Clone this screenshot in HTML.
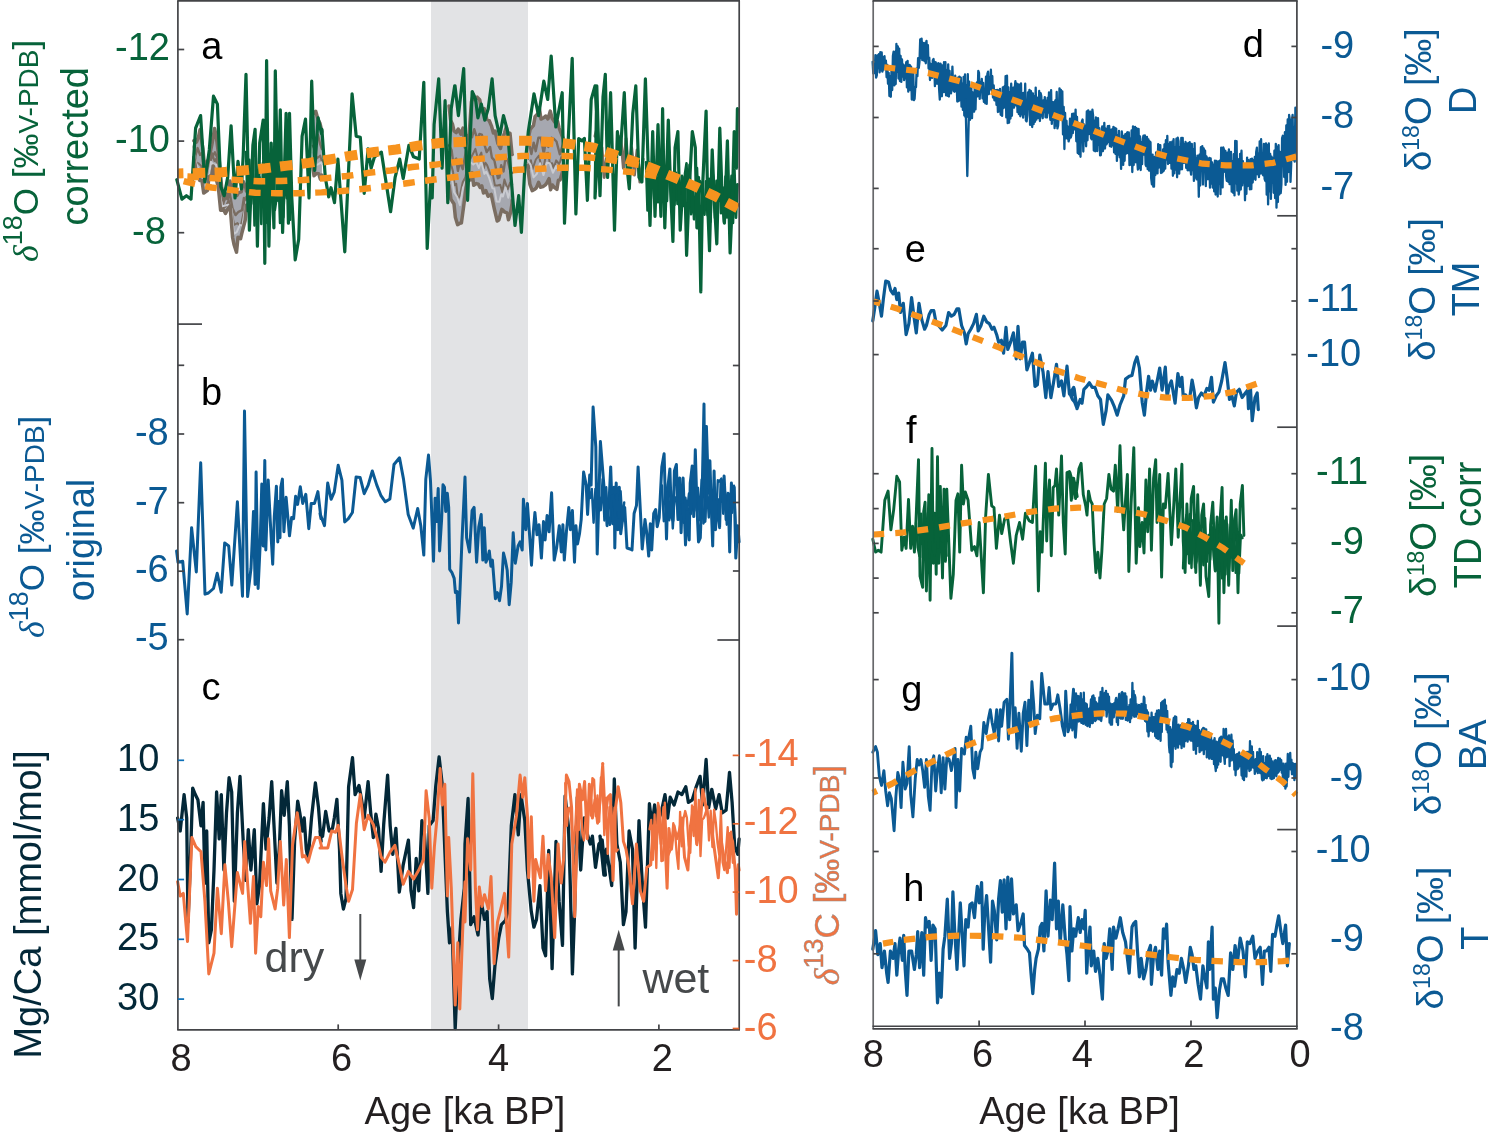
<!DOCTYPE html>
<html><head><meta charset="utf-8"><style>
html,body{margin:0;padding:0;background:#fff;overflow:hidden;}
svg{display:block;will-change:transform;}
text{font-family:"Liberation Sans",sans-serif;}
</style></head><body>
<svg width="1500" height="1135" viewBox="0 0 1500 1135" font-family='"Liberation Sans", sans-serif'>
<rect x="0" y="0" width="1500" height="1135" fill="#fff"/>
<rect x="431" y="0.8" width="97" height="1029.1" fill="#e2e3e5"/>
<polygon points="193.8,140.8 196.5,142.1 198.5,136.8 200,129.9 203,149.3 204.8,169.6 206.5,162.9 208.9,158.5 211.9,144.5 214.6,128.5 216.2,136.2 218.9,156.8 221.7,187.9 223.8,200.2 225.3,193.4 227.7,198.8 229.9,181 232.2,187.2 234.1,192 236.9,195.3 238.6,192.5 241.2,191.8 243.4,181.6 245.9,188.1 246.4,191.1 246.4,204.9 245.2,220.2 242.1,232.2 240.6,238.6 238,237.3 236.5,252.2 234,244.5 232.6,237.5 230.1,206.1 228.1,208.5 225.5,213.4 223.7,209.9 220.6,210.2 218.3,186.9 216,178.5 213.3,166 211.8,175.1 209,176.7 207.4,190.6 205.2,192 203.7,193.1 201.9,180.3 199.7,180.5 198.1,170.8 196.3,172.1 193.8,157.3" fill="#a6a8b0" stroke="none"/>
<polyline points="193.8,146.1 195.3,156.1 197.6,148.1 200,154.9 202,152.9 204.5,181.1 207.4,167.1 210,160.1 212.2,157 214.9,152.3 218.3,159.9 219.8,177 222.8,205.7 224.8,197.2 227.6,198.8 229.9,193.9 232.5,208.2 235.5,215.1 238.5,211.8 242,210.2 243.9,197.9 245.7,205.1 246.4,196.6" fill="none" stroke="#7a6d61" stroke-width="2.4" stroke-linejoin="round" stroke-linecap="round" />
<polyline points="193.8,147.7 196.4,162.6 198.7,163.5 201.3,166.1 203.5,180.8 206.8,178.7 208.9,174.7 212.2,153.2 214.5,161.1 216.1,158.9 219.4,182.3 222.7,208.8 226.1,205.9 228.7,200.1 231.3,210.4 234.1,224.8 237.5,223.1 239.5,225.6 241.2,224.3 243.2,214.5 246.4,200.1" fill="none" stroke="#7a6d61" stroke-width="2.0" stroke-linejoin="round" stroke-linecap="round" />
<polyline points="193.8,153.1 196.9,165.7 199.3,170.6 201.9,176.1 203.8,188 206.9,183.7 208.9,176.2 211,161.7 213,164.6 216.3,164.6 219.4,184.8 222.1,206.3 225.4,205.5 228.2,204.7 231.5,208.8 233.8,233.8 236.7,232.1 239.9,224.8 242.5,225.9 244.4,212.6 246.4,201.4" fill="none" stroke="#c9cbd1" stroke-width="2.0" stroke-linejoin="round" stroke-linecap="round" />
<polyline points="193.8,140.8 196.5,142.1 198.5,136.8 200,129.9 203,149.3 204.8,169.6 206.5,162.9 208.9,158.5 211.9,144.5 214.6,128.5 216.2,136.2 218.9,156.8 221.7,187.9 223.8,200.2 225.3,193.4 227.7,198.8 229.9,181 232.2,187.2 234.1,192 236.9,195.3 238.6,192.5 241.2,191.8 243.4,181.6 245.9,188.1 246.4,191.1" fill="none" stroke="#7a6d61" stroke-width="3.5" stroke-linejoin="round" stroke-linecap="round" />
<polyline points="193.8,157.3 196.3,172.1 198.1,170.8 199.7,180.5 201.9,180.3 203.7,193.1 205.2,192 207.4,190.6 209,176.7 211.8,175.1 213.3,166 216,178.5 218.3,186.9 220.6,210.2 223.7,209.9 225.5,213.4 228.1,208.5 230.1,206.1 232.6,237.5 234,244.5 236.5,252.2 238,237.3 240.6,238.6 242.1,232.2 245.2,220.2 246.4,204.9" fill="none" stroke="#7a6d61" stroke-width="3.5" stroke-linejoin="round" stroke-linecap="round" />
<polygon points="312.7,114.1 315.7,111.3 318.2,120 320,123.4 321.9,131.6 321.9,175.1 320.3,179.1 318.7,173.8 316.6,173.4 314,175.8 312.7,165.9" fill="#a6a8b0" stroke="none"/>
<polyline points="312.7,130.8 315.2,141 318,134.9 320,143.5 321.9,149" fill="none" stroke="#7a6d61" stroke-width="2.4" stroke-linejoin="round" stroke-linecap="round" />
<polyline points="312.7,145.6 314.7,150 316.9,158.5 320.3,155.6 321.9,162.1 321.9,159.9" fill="none" stroke="#7a6d61" stroke-width="2.0" stroke-linejoin="round" stroke-linecap="round" />
<polyline points="312.7,152.4 315.9,165 318.1,164.4 321.2,162.2 321.9,164.2" fill="none" stroke="#c9cbd1" stroke-width="2.0" stroke-linejoin="round" stroke-linecap="round" />
<polyline points="312.7,114.1 315.7,111.3 318.2,120 320,123.4 321.9,131.6" fill="none" stroke="#7a6d61" stroke-width="3.5" stroke-linejoin="round" stroke-linecap="round" />
<polyline points="312.7,165.9 314,175.8 316.6,173.4 318.7,173.8 320.3,179.1 321.9,175.1" fill="none" stroke="#7a6d61" stroke-width="3.5" stroke-linejoin="round" stroke-linecap="round" />
<polygon points="449,105.9 450.6,120.1 452.6,124.5 454,130.9 456.2,132.6 458.2,129 460.9,134.1 463,128.1 465.3,147.6 467.7,137.1 469.2,133.7 471.4,101.9 473.4,94.5 475.1,99.7 477.2,97.2 479.7,99.7 482.1,111.9 484.3,108.7 486.8,119.3 489.2,120.5 491.4,125.8 493.4,133 495.1,131 497.9,143.5 500.5,148.4 502.6,138.2 504.6,132.8 506.3,126.9 507.9,133.4 510,133.2 512,154.1 512.2,154.5 512.2,200.3 512.1,203.1 510.6,212.4 508.5,219.8 507.1,212.8 504.8,212.1 501.8,209.4 498.8,220 497.2,221 494.2,208.3 491.2,194.4 488.1,196.3 485.8,190.6 483.5,193 481.8,185.9 480.1,187.5 478.3,184.1 476.4,183.6 473.7,185.3 472.1,172.8 470.4,179.8 467.5,177.5 465.7,190.2 464,203.8 461.4,223.1 459.8,223.2 457.6,224.7 455.4,217.5 454,204 451,199.4 449,185.3" fill="#a6a8b0" stroke="none"/>
<polyline points="449,145.2 451.6,150.1 453.1,162 456.2,158.6 457.9,170.9 459.9,161.8 462.7,169.2 466.1,150.1 468.2,159.9 470.5,134.4 472.1,137.2 474.2,129.2 477.6,140.2 479.4,134 481.8,134.6 484.8,145.9 486.7,152.1 490.1,147 491.9,157.6 494.4,160.4 497.9,178.2 499.4,177.2 501.2,165.3 503.5,171.6 505.6,157.1 508,161.6 510.9,173.4 512.2,172.8" fill="none" stroke="#7a6d61" stroke-width="2.4" stroke-linejoin="round" stroke-linecap="round" />
<polyline points="449,158.8 451.2,165.1 453,171.4 454.6,185.3 456.2,183.8 458,198.6 459.9,196.1 462.7,182.2 465.4,177.3 468.7,159.8 470.4,158.7 473.8,152.3 475.4,148.9 478,159.1 481.3,152.6 483.8,168.2 485.3,162.7 487.1,165.1 490.5,174.1 493,175.4 494.9,185.4 497.6,185.5 500.2,184.7 502.3,191.9 504.4,179.6 507.6,189.3 510.1,182.6 512.2,184.3" fill="none" stroke="#7a6d61" stroke-width="2.0" stroke-linejoin="round" stroke-linecap="round" />
<polyline points="449,170.2 451.7,176.3 454.1,192.3 457.2,197 460,205.1 463,187.6 466.2,180.4 468,168.4 470.2,161.9 473.2,164.6 476.1,161.7 478.9,168 481.2,161.1 484.4,173.9 486.3,171.7 489.2,177.9 492.4,188.3 494.3,188.4 496.6,201.5 499.4,201.8 501.2,194.5 502.9,196.5 505.6,187.5 508.3,197.7 510.9,187.4 512.2,188.8" fill="none" stroke="#c9cbd1" stroke-width="2.0" stroke-linejoin="round" stroke-linecap="round" />
<polyline points="449,105.9 450.6,120.1 452.6,124.5 454,130.9 456.2,132.6 458.2,129 460.9,134.1 463,128.1 465.3,147.6 467.7,137.1 469.2,133.7 471.4,101.9 473.4,94.5 475.1,99.7 477.2,97.2 479.7,99.7 482.1,111.9 484.3,108.7 486.8,119.3 489.2,120.5 491.4,125.8 493.4,133 495.1,131 497.9,143.5 500.5,148.4 502.6,138.2 504.6,132.8 506.3,126.9 507.9,133.4 510,133.2 512,154.1 512.2,154.5" fill="none" stroke="#7a6d61" stroke-width="3.5" stroke-linejoin="round" stroke-linecap="round" />
<polyline points="449,185.3 451,199.4 454,204 455.4,217.5 457.6,224.7 459.8,223.2 461.4,223.1 464,203.8 465.7,190.2 467.5,177.5 470.4,179.8 472.1,172.8 473.7,185.3 476.4,183.6 478.3,184.1 480.1,187.5 481.8,185.9 483.5,193 485.8,190.6 488.1,196.3 491.2,194.4 494.2,208.3 497.2,221 498.8,220 501.8,209.4 504.8,212.1 507.1,212.8 508.5,219.8 510.6,212.4 512.1,203.1 512.2,200.3" fill="none" stroke="#7a6d61" stroke-width="3.5" stroke-linejoin="round" stroke-linecap="round" />
<polygon points="527.5,142.3 530.1,129.6 531.5,127.8 533.5,125.3 535.1,116.4 537.8,113.8 539.4,108.6 541,119.1 543.6,117.8 545.9,116 547.9,118.9 550.3,111.1 552.1,118.2 555,122.5 557.6,121.5 559.1,128 560.6,132 563,138 563,172 562.7,171.3 560.1,180 558.4,180.3 556.9,189.4 554.3,187.4 552.4,185 550.6,189.7 549.1,178.7 546.8,183 545.4,184.9 543,186.6 540.4,187.2 538.6,182.3 536.3,187.9 534.8,189.3 532.2,190.6 529.9,184.3 527.5,165.6" fill="#a6a8b0" stroke="none"/>
<polyline points="527.5,145.2 529.4,144.6 531.4,154.1 533.7,142.6 535.7,151.2 538.4,137.8 540.9,137.8 543.8,153.8 545.7,141.5 548.4,146.9 551.6,137.7 553.6,138.7 556.5,141.5 559.8,154.3 562.7,145.2 563,151.6" fill="none" stroke="#7a6d61" stroke-width="2.4" stroke-linejoin="round" stroke-linecap="round" />
<polyline points="527.5,156.6 529.4,168 530.9,160.3 532.5,169.3 535.8,159.5 538.9,155.5 541.2,165.9 543.6,167 546.4,153.3 548.2,152.8 549.8,163.1 552.2,163.3 553.7,168.3 556.2,160.4 559.5,164.5 561.3,157.1 563,160.1" fill="none" stroke="#7a6d61" stroke-width="2.0" stroke-linejoin="round" stroke-linecap="round" />
<polyline points="527.5,160.1 530.6,164.7 533.5,177.4 536.8,173.9 540.1,163.3 543.5,175.1 546.8,162.7 549.8,163.2 552.9,172.8 556.1,166 559.1,170.4 562.1,162 563,163.5" fill="none" stroke="#c9cbd1" stroke-width="2.0" stroke-linejoin="round" stroke-linecap="round" />
<polyline points="527.5,142.3 530.1,129.6 531.5,127.8 533.5,125.3 535.1,116.4 537.8,113.8 539.4,108.6 541,119.1 543.6,117.8 545.9,116 547.9,118.9 550.3,111.1 552.1,118.2 555,122.5 557.6,121.5 559.1,128 560.6,132 563,138" fill="none" stroke="#7a6d61" stroke-width="3.5" stroke-linejoin="round" stroke-linecap="round" />
<polyline points="527.5,165.6 529.9,184.3 532.2,190.6 534.8,189.3 536.3,187.9 538.6,182.3 540.4,187.2 543,186.6 545.4,184.9 546.8,183 549.1,178.7 550.6,189.7 552.4,185 554.3,187.4 556.9,189.4 558.4,180.3 560.1,180 562.7,171.3 563,172" fill="none" stroke="#7a6d61" stroke-width="3.5" stroke-linejoin="round" stroke-linecap="round" />
<polyline points="595,136.2 597.3,127 599.6,168.2 601.9,147.6 604.2,177.4 606.4,159.1" fill="none" stroke="#7a6d61" stroke-width="3" stroke-linejoin="round" stroke-linecap="round" />
<polyline points="617.9,149.9 620.6,136.2 623.4,168.2 626.1,138.5 628.9,177.4 631.6,147.6 634.4,175.1 637.1,149.9 639.9,182 643.1,159.1" fill="none" stroke="#7a6d61" stroke-width="3" stroke-linejoin="round" stroke-linecap="round" />
<polyline points="246,152.1 247.7,211.1 249.4,159.7 251.1,204 252.8,157.1 254.5,225.4 256.2,173.2 257.9,198.3 259.6,177.2 261.3,223.9 263,162.4 264.7,205.4 266.4,222.8 268.1,171.5 269.8,219.8 271.5,167.1 273.2,178.9 274.9,210 276.6,198 278.3,171.3 280,223 281.7,172.3 283.4,217.3 285.1,167.2 286.8,198.3 288.5,168.4 290.2,219.8" fill="none" stroke="#07633a" stroke-width="2.5" stroke-linejoin="round" stroke-linecap="round" />
<polyline points="646,162.3 647.5,210.4 649,162.3 650.5,204.3 652,174.3 653.5,160.3 655,198 656.5,178.1 658,202.2 659.5,158.5 661,194.6 662.5,176 664,195.9 665.5,171 667,201 668.5,159.6 670,173.1 671.5,208.1 673,173.5 674.5,205 676,172.7 677.5,204 679,180.4 680.5,210.4 682,175.7 683.5,205.9 685,173.5 686.5,163.4 688,204.7 689.5,164.9 691,214.1 692.5,185.1 694,219.3 695.5,198.8 697,168.1 698.5,210.3 700,181.1 701.5,183.5 703,205.6 704.5,214.8 706,181.4 707.5,215.1 709,178.8 710.5,221.6 712,168.4 713.5,179.4 715,218 716.5,180.9 718,201.7 719.5,172 721,213.1 722.5,187.4 724,222 725.5,176.5 727,217.4 728.5,181.5 730,205.7 731.5,175.7 733,223 734.5,169.7 736,217.6 737.5,184.3" fill="none" stroke="#07633a" stroke-width="2.6" stroke-linejoin="round" stroke-linecap="round" />
<polyline points="176.8,179.7 181.9,199.1 186.4,195.7 191,199.1 195.6,128.2 200.6,115.6 204.8,182 209.3,149.9 213.5,96.1 217.4,104.1 220.8,186.6 224.2,195.7 227.7,177.4 231.1,125.9 235,198 238,161.4 241.4,188.8 243.2,155.6 246,74.3 249.4,230.1 252.9,145.3 255.1,129.3 257.4,246.1 259.7,143 263.2,120.1 264.8,263.3 266.6,60.6 268.9,246.1 271.2,143 273.9,227.8 275.3,70.9 278,200.3 280.3,109.8 282.6,232.4 286.1,113.3 288.4,223.2 289.5,113.3 291.8,198 295.2,259.8 298.7,239.2 302.1,136.2 305.5,119 309,198 311.7,81.2 314.7,170.5 318.1,117.9 321.6,133.9 321.9,129.3 325.3,177.4 328.7,196.9 331,187.7 334.5,202.6 337.9,159.1 344.8,251.8 352.1,93.8 356.2,136.2 360.3,137.3 364.2,193.4 368.1,148.8 371.1,168.2 374.5,156.8 381.4,152.2 390.6,211.7 395.1,177.4 399.7,159.1 403.2,178.5 408.9,145.3 413.5,156.8 419.2,159.1 423.8,82.4 427.2,248.4 430.6,182 432.2,198 434.1,124.7 438.7,78.9 442.1,168.2 445.1,100.7 447.8,202.6 451.2,108.7 454.7,85.8 455,85.8 458.4,115.6 463.7,68.6 467.6,200.3 472.2,91.5 475.6,99.5 477.9,117.9 481.3,104.1 484.8,120.1 488.2,108.7 492.1,78.9 495.1,115.6 499.7,136.2 503.5,115.6 507.7,131.6 511.1,177.4 515,225.5 518.7,195.7 521.4,232.4 524.8,168.2 528.3,131.6 534,93.8 538.6,115.6 543.8,81.2 547.7,99.5 551.2,56 555.8,127 559.2,108.7 562.2,92.7 564.5,223.2 568.4,136.2 572.2,58.3 575.9,214 578.7,138.5 582.1,140.8 584.4,138.5 587.4,200.3 591.2,99.5 595.1,85.8 598.1,145.3 595,198 596.8,85.8 600,195.7 603,97.2 605.3,74.3 607.6,177.4 610.6,92.7 614.5,230.1 617.4,131.6 620.2,154.5 624.3,92.7 627.1,168.2 629.3,188.8 632.8,113.3 635.8,85.8 639,177.4 641.9,182 645.4,78.9 647.7,149.9 650,225.5 652.7,131.6 655,216.3 658,124.7 660.9,216.3 662.6,108.7 664.8,227.8 668.3,120.1 670.6,188.8 672.9,241.5 675.1,147.6 677.9,131.6 680.2,230.1 682,200.3 684.8,177.4 686.6,255.3 688.9,195.7 692.3,131.6 695.3,147.6 696.9,227.8 698.5,177.4 700.8,291.9 702.6,186.6 706.1,111 707.7,204.9 709.5,250.7 712.2,149.9 714.5,204.9 716.8,243.8 719.8,128.2 722.1,195.7 724.4,223.2 727.4,140.8 730.1,253 732.4,200.3 734.2,131.6 736.5,168.2 737.4,108.7" fill="none" stroke="#07633a" stroke-width="3.2" stroke-linejoin="round" stroke-linecap="round" />
<polyline points="178,179.5 189.7,182.7 211.6,187.5 233.5,190.3 255.3,192.8 277.2,193.3 299.6,193.2 321.5,192.4 342.5,191 364.2,188.8 387,186 408.9,183 430.6,180 453.5,177.2 474.5,174.6 496,171.7 518,169.8 539.7,168.7 562.6,167.8 584,167.8 605.3,169.4 628,171.7 650,175 665,178" fill="none" stroke="#f7931e" stroke-width="6.4" stroke-linejoin="round" stroke-linecap="butt" stroke-dasharray="11.7 10.4" stroke-dashoffset="16.2"/>
<polyline points="178,176 197,177 215.3,178.4 237.2,180 259,181.3 281.1,181 303.3,180 325.2,178.2 347,176 368.8,172.8 390.6,170.5 412.3,167 434,164.8 456,162 478,159 499.6,157.2 521.4,156 544.3,155.6 566,156 587.8,157.2 608,159.5 628,163 645,166" fill="none" stroke="#f7931e" stroke-width="6.4" stroke-linejoin="round" stroke-linecap="butt" stroke-dasharray="11.7 10.4" stroke-dashoffset="12.7"/>
<polyline points="178,173.5 199,173 221.7,172.2 243.6,170.4 265.5,168.3 287.3,165.6 309.2,162.9 331.1,159.2 351.6,155.6 374.5,152 396.3,149.5 418,145.8 440,143 461.8,141.9 483.6,140.8 505.4,140.8 528,140.8 550,142 571.8,144.2 593.5,147.6 612.5,154 634,161.4 653,168.6 674,177.4 694,186 714,195.7 739,209" fill="none" stroke="#f7931e" stroke-width="10" stroke-linejoin="round" stroke-linecap="butt" stroke-dasharray="12.6 9.3" stroke-dashoffset="7.2"/>
<polyline points="176.6,551 178,562.2 182.7,561.2 187.2,613.9 191.6,527.7 196.3,571.9 200.7,462.8 205,594.2 208.4,593 213.5,588.5 217.2,573.3 221.2,592.2 224.7,542.9 228.7,546 231.8,585.1 237.4,501.8 242.5,596.2 244.5,411.1 247.6,596.6 251,568.3 253.5,511.5 255.1,584.5 256.1,472 258.1,588.5 260.1,546 261.8,484.1 263.2,546 264.8,460.4 265.8,550 268.2,480.1 270.3,521.6 272.7,564.2 274.3,516.6 276.4,486.2 277.8,541.9 278.8,501.4 280,537.8 280.8,487.2 282.4,479.1 283.9,531.8 286.1,497.3 289.5,535.8 291.6,517.6 293.6,518.6 295.6,496.3 297.6,504.4 300.3,486.8 302.7,503.4 305.8,494.3 308.8,528.7 311.2,503.4 314.5,503.4 317.9,491.6 321,518.6 320,513.5 324.5,525.7 327.7,483.1 331.1,499.3 334.2,492.2 338.2,465.3 341.9,480.1 344.7,522 348.4,518.6 352.4,512.5 356.1,477 360.1,477.4 364.2,493.7 368.2,485.1 372.3,471 376.8,485.1 380.8,495.3 385.3,501.8 389.9,498.9 394,464.5 399.5,457.8 403.5,479.1 408.2,514.5 413.2,528.1 417.7,508.5 420.8,525.7 423.8,555.1 425.8,479.1 428.5,455.1 430.5,481.1 431.9,517.6 433.5,561.2 435.1,498.3 436.6,521.6 438.2,488.6 439.6,551 441.6,519.6 443,484.7 444.5,487.2 445.7,511.5 447.3,493.2 448.7,507.4 449.7,569.3 451.8,572.3 454.2,578.4 455.4,592.6 457,591.6 458.5,623 459.9,592.6 461.9,541.9 465,477 466.6,537.8 469.5,552 472.1,510.5 474.1,507.4 476.6,562.2 478.8,526.7 481.2,514.5 482.8,560.1 484.3,527.7 485.9,562.2 487.7,558.1 489.3,551 490.9,566.2 492.4,560.1 495.4,598.7 497.4,592.6 499.5,600.7 501.5,586.5 503.5,553.1 505.5,561.2 507.2,570.3 509.2,604.7 511.2,582.4 513.2,532.8 515.3,563.2 518.1,546 520.1,541.9 522.2,550 523.4,499.3 525.8,529.7 527.4,503.4 529.5,533.8 531.5,565.2 533.3,531.8 534.9,512.5 537,534.8 539,524.7 541.4,558.1 543.5,521.6 545.1,539.9 547.1,515.5 549.1,531.8 551.6,492.8 554.2,560.1 556.6,548 559.3,525.7 561.3,552 562.9,524.7 564.3,560.1 566.4,531.8 568.8,507.4 570.4,529.7 572.4,510.5 574.5,562.2 575.9,525.7 577.5,543.9 579.5,533.8 581.2,519.6 583.6,472 586.2,485.1 587.6,514.5 589.7,475 591.1,485.1 593.1,407.1 595.8,446.6 597.2,554.1 598.8,501.4 600.4,441.6 607.1,525.7 609.1,501.4 610.7,466.9 612.6,523.7 614.2,487.2 614.8,548 616.2,483.1 617.8,529.7 619.3,487.2 620.7,533.8 622.3,521.6 624.7,507.4 627,548 630,549 632,550 634.1,513.5 636.5,505.4 638.1,466.9 640.5,513.5 642.2,549 645,519.6 646.6,531.8 648.7,556.1 650.3,523.7 651.7,550 653.7,513.5 655.7,509.5 657.2,526.7 659.2,517.6 661.8,466.9 664.1,453.7 666.5,538.9 668.1,485.1 669.9,468.9 671.4,517.6 673,520.6 674.4,471 676.4,464.5 678,519.6 679.7,478 681.1,532.8 683.1,478 685.5,544.9 687.2,508.5 689.2,539.9 690.2,483.1 692.2,465.9 693.7,516.6 695.3,449.7 696.9,505.4 698.5,541.9 700.3,537.8 702.4,481.1 704,404.1 705,521.6 706.4,426.4 708.5,493.2 709.9,460.8 711.1,501.4 712.7,546 714.1,471 715.5,529.7 717.6,499.3 719.6,527.7 721,480.1 722.6,501.4 724.1,476 726.1,519.6 728.1,493.2 729.7,552 731.4,483.1 732.8,501.4 734.2,487.2 735.8,558.1 737.8,525.7 739.1,541.9" fill="none" stroke="#0b5a94" stroke-width="3.0" stroke-linejoin="round" stroke-linecap="round" />
<polyline points="590,498 591.8,488.9 593.6,522.8 595.4,488.9 597.2,512.5 599,496.6 600.8,510.3 602.6,479.3 604.4,520.5 606.2,487.3 608,519.2 609.8,524.8 611.6,496.3 613.4,495.1 615.2,516.1 617,495 618.8,517.7 620.6,491.1 622.4,521.3 624.2,502.4" fill="none" stroke="#0b5a94" stroke-width="2.4" stroke-linejoin="round" stroke-linecap="round" />
<polyline points="662,485.5 663.8,521.2 665.6,517.1 667.4,492.6 669.2,520.4 671,490.8 672.8,528.5 674.6,497.2 676.4,498 678.2,519 680,490.4 681.8,489.9 683.6,522.8 685.4,497.7 687.2,509.7 689,493.5 690.8,514.2 692.6,482.1 694.4,510.6 696.2,490.9 698,487.7 699.8,520.3 701.6,479.7 703.4,523.5 705.2,518.8 707,489.5 708.8,517.5 710.6,482.3 712.4,525.3 714.2,497.1 716,522.2 717.8,480.2 719.6,481.5 721.4,478.6 723.2,513.8 725,491.2 726.8,524.7 728.6,495.9 730.4,493.9 732.2,512.7 734,485.7 735.8,528.2" fill="none" stroke="#0b5a94" stroke-width="2.4" stroke-linejoin="round" stroke-linecap="round" />
<polyline points="177.6,818 180.2,831 184.1,794.6 186.7,818 188,922 190.1,870 192.7,788.1 195.3,794.6 197.9,799.8 201,825.8 203.1,802.4 204.9,883 206.7,831 208.8,942.8 211.4,929.8 214,870 216.6,792 219.2,838.8 221.3,794.6 223.9,870 226.5,812.8 229.1,777.7 231.7,792 234.3,901.2 237.4,812.8 240,776.4 243.1,838.8 245.7,880.4 248.3,829.7 250.9,870 254.3,829.7 256.9,903.8 259.5,885.6 263.4,803.7 266,849.2 269.1,818 271.7,781.6 274.3,831 276.9,883 279.5,844 281.6,790.7 284.2,815.4 287.3,781.6 289.4,825.8 292,919.4 294.6,841.4 297.7,801.1 299.8,812.8 302.4,831 304.2,818 306.3,849.2 308.1,859.6 311.5,818 315.4,782.9 318.5,807.6 321.1,841.4 320,831 322.6,836.2 325.7,811.5 329.1,831 332.5,828.4 334.3,818 336.9,799.3 339.5,849.2 340.8,893.4 343.4,909 346,898.6 348.6,786.8 352.5,757.7 355.1,794.6 359,785.5 361.6,799.8 364.2,818 368.1,781.6 370.7,812.8 373.3,837.5 375.9,814.1 378.5,828.4 381.1,871.3 383.7,824.5 387.6,775.1 390.2,825.8 392.8,854.4 395.9,828.4 399.3,892.1 403.2,864.8 408.4,840.1 411,890.8 413.6,907.7 416.2,858.3 418.8,890.8 421.9,820.6 424.5,833.6 427.9,893.4 429.2,825.8 433.1,820.6 435.7,786.8 439.1,756.9 442.2,784.2 444.8,849.2 447.4,911.6 449.5,942.8 452.1,927.2 455.2,1028.5 458.3,961 460.9,919.4 464.3,888.2 465,844 468.1,798.5 470.7,924.6 474.1,916.8 478,935 481.1,901.2 484.5,919.4 487.1,911.6 489.7,979.1 492.3,998.6 494.9,966.2 498.8,937.6 501.4,924.6 505.3,920.7 507.9,911.6 511.3,825.8 514.9,794.6 518.3,834.9 520.9,794.6 524.8,820.6 527.4,870 531.3,911.6 533.9,927.2 536.5,919.4 539.9,885.6 543,948 545.6,955.8 548.7,850.5 552.1,968.7 556,841.4 559.1,901.2 562.5,945.4 565.1,795.9 568.5,827.1 570.3,885.6 572.4,973.9 574.7,909 577.3,797.2 580.7,870 584.1,818 587.2,833.6 590.3,844 592.4,836.2 595.5,867.4 598.9,844 602.2,840.1 605.4,875.2 600,836.2 603.9,875.2 606.5,849.2 611.7,885.6 614.3,779 616.9,844 620.3,862.2 623.4,924.6 626,911.6 629.1,831 632.5,849.2 635.1,948 639,820.6 642.1,880.4 645.5,927.2 649.4,803.7 652,825.8 654.6,805 657.2,823.2 661.1,812.8 665,794.6 667.6,818 670.2,797.2 674.1,805 678,792 681.9,794.6 685.8,786.8 688.4,802.4 692.3,799.8 696.2,786.8 700.1,776.4 702.7,805 706.1,759.5 708.7,807.6 711.8,789.4 715.7,808.9 719.1,794.6 722.2,812.8 726.1,810.2 729.5,772.5 732.1,802.4 734.7,846.6 737.8,854.4 739.1,838.8" fill="none" stroke="#032838" stroke-width="3.3" stroke-linejoin="round" stroke-linecap="round" />
<polyline points="177.6,881.7 180.2,896 183.3,893.4 187.5,941.5 191.9,837.5 195.8,846.6 201,851.8 204.9,901.2 208.8,973.9 214,953.2 217.4,888.2 221.3,933.7 224.9,864.8 228.3,901.2 231.7,946.7 237.4,872.6 242.6,893.4 244.7,841.4 250.4,923.3 253.5,876.5 255.6,953.2 258.2,906.4 260.8,916.8 263.4,862.2 266.5,885.6 268.6,838.8 270.7,890.8 275.1,909 277.7,888.2 280.3,841.4 283.7,905.1 286.3,859.6 289.4,937.6 292.5,845.3 297.2,812.8 299.8,831 302.4,857 305,855.7 308.1,862.2 311.5,849.2 315.4,837.5 319.3,837.5 321.9,847.9 320,847.9 327.8,847.9 331.7,831 335.6,832.3 338.2,825.3 342.1,857 346,885.6 348.6,901.2 352.5,889.5 356.4,823.2 360.3,794.6 364.2,829.7 368.1,815.4 373.3,824.5 377.2,838.8 381.1,857 385,862.2 390.2,851.8 394.9,845.3 399.3,864.8 403.2,884.3 408.4,871.3 413.6,879.1 418.8,870 423.5,859.6 426.1,790.7 429.2,818 431.8,888.2 434.4,846.6 437,818 440.1,768.6 442.2,805 444.8,784.2 447.4,896 448.7,837.5 451.3,888.2 455.2,1005.1 457.8,942.8 459.8,1009 463,922 465,881.7 465,922 467.6,838.8 470.7,870 472.8,773.8 475.4,888.2 477.5,929.8 479.3,886.9 481.9,906.4 484.5,894.7 488.4,909 491,876.5 494.1,963.6 497.5,922 501.4,906.4 504.5,893.4 508.7,957.1 511.8,844 516.5,815.4 520.1,775.1 522.7,797.2 524.8,777.7 527.4,815.4 528.7,877.8 531.3,816.7 533.9,901.2 535.7,859.6 538.3,870 540.4,877.8 543,836.2 545.6,890.8 548.2,854.4 551.3,877.8 554.7,937.6 558.1,844 561.2,883 563.8,857 566.4,775.1 569,781.6 571.6,807.6 574.7,916.8 577.3,831 579.4,784.2 582.5,799.8 584.6,781.6 587.2,838.8 589.3,784.2 592.4,818 595,799.8 597.6,823.2 600.2,799.8 602.8,763.4 602.6,763.4 605.2,818 607.8,797.2 610.4,794.6 613,880.4 615.6,807.6 618.2,786.8 620.8,802.4 623.4,841.4 626,849.2 628.6,864.8 632.5,903.8 636.4,844 640.3,890.8 643.7,901.2 646.8,867.4 650.7,864.8 653.3,825.8 655.9,849.2 658.5,812.8 661.1,844 663.7,807.6 667.1,888.2 668.9,828.4 671.5,849.2 674.1,825.8 676.7,838.8 679.3,831 681.9,818 684.5,857 687.9,870 690.5,825.8 693.6,807.6 696.7,844 700.1,828.4 702.7,789.4 706.6,810.2 709.2,820.6 711.8,828.4 714.4,849.2 718.3,877.8 720.9,838.8 724.3,859.6 727.4,872.6 730,833.6 732.6,841.4 735.2,870 736.5,914.2 738.3,864.8 739.1,870" fill="none" stroke="#f07341" stroke-width="3.0" stroke-linejoin="round" stroke-linecap="round" />
<polyline points="565.2,783.2 566.9,825.9 568.6,807.8 570.3,807.6 572,830.2 573.7,843.9 575.4,824 577.1,789.4 578.8,830.2 580.5,791.1 582.2,832.3 583.9,840.3 585.6,816.9 587.3,814.8 589,799 590.7,815.5 592.4,778.1 594.1,779.9 595.8,816.2 597.5,795.3 599.2,821.8 600.9,777.3 602.6,784.1 604.3,835.2 606,797.8 607.7,853.9 609.4,807.1 611.1,806.3 612.8,833.2 614.5,807.7 616.2,851.5 617.9,849.6" fill="none" stroke="#f07341" stroke-width="2.3" stroke-linejoin="round" stroke-linecap="round" />
<polyline points="649.5,829.3 651.2,819.9 652.9,859.9 654.6,814.3 656.3,868 658,802.8 659.7,809.2 661.4,861.1 663.1,860.5 664.8,802.6 666.5,843.4 668.2,855.2 669.9,851.5 671.6,845.5 673.3,823.2 675,831.4 676.7,853.9 678.4,868.9 680.1,811.9 681.8,846.4 683.5,818.7 685.2,811 686.9,817.9 688.6,845 690.3,852.8 692,805.3 693.7,836 695.4,789 697.1,845.2 698.8,799.9 700.5,856.2 702.2,819.6 703.9,817.9 705.6,813 707.3,806.6 709,840.5 710.7,810.7 712.4,847 714.1,809.6 715.8,822.2 717.5,842.9 719.2,854.6 720.9,810.8 722.6,862.2 724.3,870.1 726,850.5 727.7,827.2 729.4,867.9 731.1,831.6 732.8,862.8" fill="none" stroke="#f07341" stroke-width="2.3" stroke-linejoin="round" stroke-linecap="round" />
<line x1="177.9" y1="0.8" x2="177.9" y2="1029.9" stroke="#434447" stroke-width="1.7"/>
<line x1="739.2" y1="0.8" x2="739.2" y2="1029.9" stroke="#434447" stroke-width="1.7"/>
<line x1="177.2" y1="0.8" x2="740" y2="0.8" stroke="#434447" stroke-width="1.7"/>
<line x1="177.2" y1="1029.9" x2="740" y2="1029.9" stroke="#434447" stroke-width="1.7"/>
<line x1="177.9" y1="324.1" x2="202" y2="324.1" stroke="#434447" stroke-width="1.7"/>
<line x1="717.4" y1="640" x2="739.2" y2="640" stroke="#434447" stroke-width="1.7"/>
<line x1="177.9" y1="49.5" x2="184.2" y2="49.5" stroke="#434447" stroke-width="1.7"/>
<line x1="177.9" y1="141.1" x2="184.2" y2="141.1" stroke="#434447" stroke-width="1.7"/>
<line x1="177.9" y1="232.7" x2="184.2" y2="232.7" stroke="#434447" stroke-width="1.7"/>
<line x1="177.9" y1="365.3" x2="184.2" y2="365.3" stroke="#434447" stroke-width="1.7"/>
<line x1="177.9" y1="434" x2="184.2" y2="434" stroke="#434447" stroke-width="1.7"/>
<line x1="177.9" y1="502.7" x2="184.2" y2="502.7" stroke="#434447" stroke-width="1.7"/>
<line x1="177.9" y1="571.2" x2="184.2" y2="571.2" stroke="#434447" stroke-width="1.7"/>
<line x1="177.9" y1="639.7" x2="184.2" y2="639.7" stroke="#434447" stroke-width="1.7"/>
<line x1="739.2" y1="365.5" x2="732.9" y2="365.5" stroke="#434447" stroke-width="1.7"/>
<line x1="739.2" y1="434" x2="732.9" y2="434" stroke="#434447" stroke-width="1.7"/>
<line x1="739.2" y1="502.5" x2="732.9" y2="502.5" stroke="#434447" stroke-width="1.7"/>
<line x1="739.2" y1="571" x2="732.9" y2="571" stroke="#434447" stroke-width="1.7"/>
<line x1="177.9" y1="760.3" x2="184.1" y2="760.3" stroke="#0b6fb8" stroke-width="1.7"/>
<line x1="177.9" y1="819.7" x2="184.1" y2="819.7" stroke="#0b6fb8" stroke-width="1.7"/>
<line x1="177.9" y1="879.5" x2="184.1" y2="879.5" stroke="#0b6fb8" stroke-width="1.7"/>
<line x1="177.9" y1="939.3" x2="184.1" y2="939.3" stroke="#0b6fb8" stroke-width="1.7"/>
<line x1="177.9" y1="999.1" x2="184.1" y2="999.1" stroke="#0b6fb8" stroke-width="1.7"/>
<line x1="739.2" y1="755.4" x2="732.7" y2="755.4" stroke="#e2622b" stroke-width="1.7"/>
<line x1="739.2" y1="823.8" x2="732.7" y2="823.8" stroke="#e2622b" stroke-width="1.7"/>
<line x1="739.2" y1="892.1" x2="732.7" y2="892.1" stroke="#e2622b" stroke-width="1.7"/>
<line x1="739.2" y1="960.6" x2="732.7" y2="960.6" stroke="#e2622b" stroke-width="1.7"/>
<line x1="739.2" y1="1028.5" x2="732.7" y2="1028.5" stroke="#e2622b" stroke-width="1.7"/>
<line x1="338.2" y1="1029.9" x2="338.2" y2="1024.4" stroke="#434447" stroke-width="1.7"/>
<line x1="498.6" y1="1029.9" x2="498.6" y2="1024.4" stroke="#434447" stroke-width="1.7"/>
<line x1="658.9" y1="1029.9" x2="658.9" y2="1024.4" stroke="#434447" stroke-width="1.7"/>
<line x1="360.3" y1="914" x2="360.3" y2="962" stroke="#46494b" stroke-width="2"/>
<polygon points="354.3,959.5 366.3,959.5 360.3,980.5" fill="#46494b"/>
<line x1="618.7" y1="1006.4" x2="618.7" y2="948" stroke="#46494b" stroke-width="2"/>
<polygon points="612.7,950.6 624.7,950.6 618.7,929.8" fill="#46494b"/>
<polyline points="872.6,61.8 873.3,73.5 874,63 874.7,73.2 875.4,55.1 876.1,77.7 876.8,75.4 877.5,55.5 878.2,68 878.9,54.1 879.6,72.4 880.3,52.2 881,70.4 881.7,52.5 882.4,71.6 883.1,57.2 883.8,69.5 884.5,56.2 885.2,68.7 885.9,60.6 886.6,77.3 887.3,64.8 888,83.8 888.7,72.8 889.4,96 890.1,76.2 890.8,96.8 891.5,70.2 892.2,90 892.9,56 893.6,51.6 894.3,85.4 895,52 895.7,84.1 896.4,44 897.1,71.9 897.8,46.4 898.5,78.5 899.2,48.7 899.9,81.1 900.6,56 901.3,81.9 902,59.5 902.7,76.7 903.4,64.6 904.1,80.2 904.8,66 905.5,78.3 906.2,62.2 906.9,87.4 907.6,60.8 908.3,91.6 909,67.6 909.7,64.8 910.4,90 911.1,66.7 911.8,99.6 912.5,99.4 913.2,70.3 913.9,100.1 914.6,99 915.3,87 916,87.1 916.7,68.3 917.4,76.2 918.1,58.1 918.8,67.8 919.5,61.5 920.2,39.5 920.9,58.1 921.6,38.6 922.3,60.1 923,42.8 923.7,58.5 924.4,61 925.1,43 925.8,63.3 926.5,40.9 927.2,58.6 927.9,45.1 928.6,68.5 929.3,57.7 930,80 930.7,63.9 931.4,66.1 932.1,77.9 932.8,60.3 933.5,59 934.2,64.7 934.9,86.2 935.6,62.1 936.3,64.8 937,83.8 937.7,63.7 938.4,63.2 939.1,89 939.8,99.6 940.5,63.7 941.2,66 941.9,96.3 942.6,65.4 943.3,92.2 944,62.2 944.7,92 945.4,62.1 946.1,95.4 946.8,70.5 947.5,95.8 948.2,64.4 948.9,96.5 949.6,70.8 950.3,85 951,93.4 951.7,87 952.4,66.6 953.1,86.1 953.8,91.1 954.5,91.7 955.2,75.7 955.9,91.2 956.6,81.1 957.3,101.5 958,77.7 958.7,101 959.4,76.6 960.1,100.1 960.8,77.6 961.5,106.6 962.2,83.9 962.9,109.9 963.6,76.9 964.3,115.5 965,74.4 965.7,117.3 966.4,86 967.1,116.9 967.8,74.2 968.5,116.8 969.2,81.6 969.9,120 970.6,112.1 971.3,87.6 972,118.1 972.7,92.3 973.4,107.5 974.1,111.6 974.8,85.6 975.5,109.4 976.2,84.7 976.9,82.5 977.6,96.4 978.3,70.8 979,72.9 979.7,98.9 980.4,82.9 981.1,91.6 981.8,79 982.5,98.4 983.2,82.9 983.9,101.9 984.6,100.7 985.3,103.2 986,76.6 986.7,103.9 987.4,73.8 988.1,71.7 988.8,94.2 989.5,77.4 990.2,88.9 990.9,69.7 991.6,90.8 992.3,76.2 993,97.5 993.7,85.4 994.4,100.3 995.1,99.2 995.8,90.2 996.5,104.9 997.2,89.8 997.9,112 998.6,90.5 999.3,111.3 1000,88.9 1000.7,114.8 1001.4,95.5 1002.1,115.9 1002.8,87.4 1003.5,108.2 1004.2,86.7 1004.9,107.2 1005.6,76.1 1006.3,117.4 1007,75.7 1007.7,123.2 1008.4,87.3 1009.1,122.6 1009.8,92.4 1010.5,118.5 1011.2,83.7 1011.9,115.8 1012.6,91.5 1013.3,87.6 1014,107.6 1014.7,88.7 1015.4,81.2 1016.1,105.5 1016.8,83.7 1017.5,112.1 1018.2,84.5 1018.9,114.1 1019.6,84.7 1020.3,116.3 1021,83.5 1021.7,114.3 1022.4,93.1 1023.1,117.6 1023.8,92.8 1024.5,114.1 1025.2,83.7 1025.9,120.6 1026.6,121.4 1027.3,115.2 1028,92.3 1028.7,96.5 1029.4,90 1030.1,124.9 1030.8,90.8 1031.5,93.5 1032.2,127 1032.9,93.5 1033.6,124.1 1034.3,96.2 1035,121.8 1035.7,87.6 1036.4,119.7 1037.1,97.6 1037.8,113 1038.5,118.1 1039.2,91 1039.9,121 1040.6,93.1 1041.3,96 1042,114.7 1042.7,118.2 1043.4,100.4 1044.1,112.2 1044.8,97.1 1045.5,117.3 1046.2,100.9 1046.9,117.5 1047.6,97.8 1048.3,112.5 1049,92.3 1049.7,113.3 1050.4,119.9 1051.1,90.1 1051.8,123.9 1052.5,102.2 1053.2,119.8 1053.9,102.2 1054.6,128.1 1055.3,100.3 1056,125.5 1056.7,91.9 1057.4,128.4 1058.1,125.7 1058.8,114.1 1059.5,88.4 1060.2,115.9 1060.9,89.9 1061.6,112.9 1062.3,91.3 1063,134.4 1063.7,107 1064.4,149.1 1065.1,113 1065.8,138.3 1066.5,120.8 1067.2,138.5 1067.9,126.6 1068.6,141.4 1069.3,138.4 1070,118.7 1070.7,137.7 1071.4,135.5 1072.1,114 1072.8,133.2 1073.5,113.6 1074.2,114 1074.9,129.4 1075.6,109.6 1076.3,141.3 1077,116.8 1077.7,153 1078.4,123 1079.1,154.2 1079.8,128.1 1080.5,156.8 1081.2,124.7 1081.9,121.4 1082.6,119.5 1083.3,151.5 1084,124.3 1084.7,140.8 1085.4,125.8 1086.1,146.3 1086.8,111.5 1087.5,140.3 1088.2,110.3 1088.9,134 1089.6,127.9 1090.3,111.6 1091,137.9 1091.7,139.3 1092.4,109.7 1093.1,115.7 1093.8,150.5 1094.5,120.9 1095.2,151.3 1095.9,117.4 1096.6,119.6 1097.3,151.1 1098,118.1 1098.7,144.9 1099.4,128.2 1100.1,155.4 1100.8,155.2 1101.5,148 1102.2,126.5 1102.9,151.1 1103.6,145.7 1104.3,122.9 1105,148.5 1105.7,128.6 1106.4,144.3 1107.1,143.2 1107.8,126.2 1108.5,141.9 1109.2,126 1109.9,146.2 1110.6,130 1111.3,146.8 1112,129.4 1112.7,145 1113.4,126.9 1114.1,152.4 1114.8,127.8 1115.5,153.9 1116.2,128.6 1116.9,160.9 1117.6,135.2 1118.3,154.5 1119,131 1119.7,157.3 1120.4,141.4 1121.1,168.9 1121.8,131.5 1122.5,138.7 1123.2,164.9 1123.9,136 1124.6,160.8 1125.3,134.2 1126,153.7 1126.7,133.6 1127.4,132.2 1128.1,153.3 1128.8,132.5 1129.5,165.2 1130.2,139 1130.9,164.6 1131.6,130.4 1132.3,172.1 1133,126.3 1133.7,165 1134.4,137.2 1135.1,127 1135.8,162.3 1136.5,128.2 1137.2,160 1137.9,169.6 1138.6,128.9 1139.3,168.1 1140,136.3 1140.7,170 1141.4,142.3 1142.1,164.2 1142.8,139.1 1143.5,135.6 1144.2,154.7 1144.9,135.4 1145.6,164.8 1146.3,166.1 1147,137 1147.7,169.2 1148.4,139.4 1149.1,170.7 1149.8,141.5 1150.5,142.3 1151.2,178.4 1151.9,184.4 1152.6,154.6 1153.3,186.7 1154,186.6 1154.7,156.9 1155.4,175 1156.1,152.4 1156.8,155.1 1157.5,173.4 1158.2,144.1 1158.9,167.5 1159.6,145.1 1160.3,145.2 1161,173 1161.7,153.2 1162.4,172.3 1163.1,149.4 1163.8,170.8 1164.5,144.3 1165.2,168.6 1165.9,140.1 1166.6,159.5 1167.3,135.8 1168,164 1168.7,144.3 1169.4,162.9 1170.1,142.2 1170.8,146.2 1171.5,168.6 1172.2,141.7 1172.9,175.8 1173.6,139.2 1174.3,173.4 1175,147.7 1175.7,169.5 1176.4,138.7 1177.1,177.3 1177.8,137.6 1178.5,141.3 1179.2,173.7 1179.9,147.6 1180.6,169.3 1181.3,137.9 1182,169.3 1182.7,137.8 1183.4,162.9 1184.1,144.3 1184.8,162.8 1185.5,142 1186.2,167.9 1186.9,143.7 1187.6,170.3 1188.3,143.1 1189,170.3 1189.7,142.1 1190.4,168.1 1191.1,174.7 1191.8,143.8 1192.5,170.1 1193.2,149.2 1193.9,180.9 1194.6,143.2 1195.3,177.6 1196,158.4 1196.7,179.4 1197.4,155.7 1198.1,164.6 1198.8,196.8 1199.5,154.6 1200.2,185.6 1200.9,147.2 1201.6,156.8 1202.3,146.2 1203,184.5 1203.7,148.3 1204.4,155.1 1205.1,150.7 1205.8,186.1 1206.5,156.5 1207.2,159.1 1207.9,179.2 1208.6,162.7 1209.3,157.9 1210,187.7 1210.7,158.5 1211.4,183.5 1212.1,162.5 1212.8,187.7 1213.5,165 1214.2,191.4 1214.9,160.6 1215.6,194.6 1216.3,160.8 1217,173 1217.7,196.5 1218.4,161.4 1219.1,183.7 1219.8,160.7 1220.5,194.2 1221.2,147.6 1221.9,181.6 1222.6,187.4 1223.3,147.5 1224,149.7 1224.7,171.8 1225.4,151 1226.1,176.3 1226.8,180.8 1227.5,152.7 1228.2,181.8 1228.9,149.5 1229.6,184.2 1230.3,161.9 1231,151.8 1231.7,191.7 1232.4,161.2 1233.1,192.8 1233.8,154.1 1234.5,195.4 1235.2,140.8 1235.9,183.3 1236.6,141.1 1237.3,190.7 1238,159.1 1238.7,194.5 1239.4,188.6 1240.1,153.8 1240.8,189.6 1241.5,150.7 1242.2,185.4 1242.9,161.1 1243.6,182.6 1244.3,164.4 1245,200.3 1245.7,165 1246.4,193.9 1247.1,157.6 1247.8,186 1248.5,160.2 1249.2,161.3 1249.9,189.4 1250.6,159.2 1251.3,189.1 1252,158.6 1252.7,182.5 1253.4,160.3 1254.1,178.5 1254.8,157 1255.5,179.8 1256.2,152 1256.9,147.7 1257.6,174.3 1258.3,153.7 1259,177.1 1259.7,141.3 1260.4,173.5 1261.1,139.2 1261.8,170.2 1262.5,173.9 1263.2,175.3 1263.9,143.9 1264.6,178.9 1265.3,181 1266,143.5 1266.7,194.7 1267.4,145.2 1268.1,204.4 1268.8,143.3 1269.5,191.3 1270.2,154 1270.9,198.9 1271.6,156.6 1272.3,182.8 1273,158.1 1273.7,192.8 1274.4,150.7 1275.1,198.2 1275.8,143.8 1276.5,207.7 1277.2,146.8 1277.9,202 1278.6,145.1 1279.3,194.6 1280,151.8 1280.7,193.1 1281.4,184.3 1282.1,138 1282.8,135.8 1283.5,143.6 1284.2,177 1284.9,132.2 1285.6,184.9 1286.3,125.4 1287,181.8 1287.7,119.5 1288.4,172.1 1289.1,114.9 1289.8,119.2 1290.5,181.9 1291.2,164.2 1291.9,121.7 1292.6,114.9 1293.3,160.1 1294,127.2 1294.7,161.7 1295.4,107.7" fill="none" stroke="#0b5a94" stroke-width="2.3" stroke-linejoin="round" stroke-linecap="round" />
<polyline points="965.5,100 967.3,176 969,110" fill="none" stroke="#0b5a94" stroke-width="2.3" stroke-linejoin="round" stroke-linecap="round" />
<polyline points="873.5,64 884,67.2 917.6,71.1 928,72.9 958,80.8 971,84.3 1000.4,95 1011.8,99.3 1062.9,118.7 1103.4,134.6 1145.7,150.4 1167.6,156.6 1202.9,163.7 1225.8,165.4 1252.2,165.4 1273.4,162.8 1296.3,156.6" fill="none" stroke="#f7931e" stroke-width="6.2" stroke-linejoin="round" stroke-linecap="butt" stroke-dasharray="11 11" stroke-dashoffset="10.76"/>
<polyline points="872.8,320.8 874.6,308.8 877,291.2 879.3,303.3 881.5,316.2 883.3,299.6 885.7,281.1 888.5,282 890.7,290.3 893.1,294 895,288.5 896.8,299.6 898.7,293.1 900.5,312.5 903.3,303.3 906.1,334.7 908.9,323.6 911.6,297.7 914.4,319.9 916.3,332.9 919,303.3 921.8,319.9 924.6,329.2 926.4,325.5 929.2,314.4 931.1,310.7 933.8,310.7 935.7,320.8 938.5,325.5 942.2,330.1 945.9,325.5 948.6,312.5 951.4,316.2 954.2,314.4 957,308.8 958.8,308.8 961.6,325.5 964.4,332.9 966.2,344 968.1,333.8 970.8,329.2 973.6,323.6 976.4,314.4 978.2,331 981,325.5 983.8,316.2 986.6,321.8 989.3,323.6 992.1,329.2 994,327.3 996.7,334.7 998.6,342.1 1001.4,340.3 1003.6,353.2 1006,327.3 1007.8,349.5 1010.6,342.1 1013.4,332.9 1016.2,358.8 1018,326.4 1020.2,358.8 1022.6,342.1 1024.5,342.1 1026.9,369.9 1029.5,362.5 1032.4,353.2 1035,386.5 1037.4,384.7 1039.8,355.1 1043,371.7 1045.8,397.6 1048,371.7 1050.9,397.6 1053.5,382.8 1056.5,364.3 1058.7,386.5 1061.5,381 1063.9,395.8 1067,366.2 1069.4,393.9 1071.7,395.8 1074.1,388.4 1076.8,407.8 1074.6,402 1072.3,399.2 1070,393.9 1073.7,387.4 1077,408.7 1080.2,399.5 1082,403.2 1083.9,389.3 1086.7,386.5 1089.4,382.8 1092.2,387.4 1095,387.4 1097.8,395.8 1100.5,399.5 1103.3,424.4 1106.1,410.6 1107.9,394.8 1111.6,400.4 1114.4,406.9 1117.2,415.2 1120,405 1123.7,395.8 1125.5,379.1 1129.2,376.3 1132,375.4 1134.8,362.5 1137,356.9 1139.4,368 1142.2,402.2 1144.4,415.2 1146.8,390.2 1148.6,376.3 1150.5,390.2 1152.3,381 1155.1,391.1 1157.9,377.3 1159.7,368 1162.1,390.2 1165.3,367.1 1167.1,397.6 1169,386.5 1171.4,381 1173.2,392.1 1175.1,403.2 1177.9,373.6 1180.1,386.5 1181.9,377.3 1183.2,395.8 1185.6,394.8 1187.5,397.6 1189.9,396.7 1192.1,380 1194,390.2 1196.4,407.8 1198.6,397.6 1201.4,393 1204.1,395.8 1206.9,388.4 1209.1,390.2 1211.5,377.3 1213.4,402.2 1216.2,395.8 1218.9,392.1 1221.7,381 1225,362.5 1227.3,379.1 1229.5,399.5 1231.9,395.8 1234.3,405.9 1236.5,392.1 1239.3,389.3 1242.1,397.6 1245.4,393 1247.6,390.2 1248.5,408.7 1250.4,386.5 1252.2,420.7 1255,397.6 1257.2,393 1258.3,409.6" fill="none" stroke="#0b5a94" stroke-width="3.2" stroke-linejoin="round" stroke-linecap="round" />
<polyline points="873.7,301.4 897.8,308.8 947.7,327.3 999.5,347.7 1055,370 1079,378.2 1103.3,384.7 1125.5,391.1 1144,394.8 1166.2,397.6 1188.4,398 1210.6,396.1 1232.8,392 1256.9,383.7" fill="none" stroke="#f7931e" stroke-width="6.2" stroke-linejoin="round" stroke-linecap="butt" stroke-dasharray="11 10.9" stroke-dashoffset="4.13"/>
<polyline points="872.8,539.2 875.6,552.1 878.3,550.3 881.1,552.1 884.8,500.3 888.1,491.1 890.9,529.9 893.7,509.6 896.8,476.3 899.6,481.8 901.8,550.3 904.2,537.3 906.1,548.4 908.5,499.4 910.7,548.4 912.6,526.2 914.4,552.1 915.9,522.5 918.5,459.6 920,576.2 922.7,587.3 923.7,511.4 925.1,502.2 926.4,591 927.7,541 928.8,494.8 930.1,600.2 932,448.5 933.3,563.2 934.8,513.3 936.2,574.3 937.5,456.8 938.8,563.2 940.3,486.4 942.5,578 944,489.2 945.5,561.4 946.8,489.2 948.6,537.3 950.9,598.4 953.3,574.3 956,500.3 957.9,493.8 959.7,552.1 961.6,465.2 963.4,504 965.3,492 968.1,500.3 971.8,550.3 974.5,546.6 976.9,555.8 979.2,522.5 983.4,592.8 985.6,517 988.4,474.4 991.7,505.9 994,507.7 996.4,548.4 999.5,515.1 1001.7,533.6 1004.7,518.8 1007.8,518.8 1010.6,542.3 1013.4,563.2 1016.2,535.5 1019.5,522.5 1022.6,539.2 1025.4,513.3 1029.1,520.7 1032.4,522.5 1035.6,466.1 1038.4,591 1040.2,531.8 1042.1,552.1 1043.9,504 1045.4,463.3 1046.7,541 1048,500.3 1049.5,480 1051.3,555.8 1053.2,487.4 1055,485.5 1056.5,468.9 1058.7,515.1 1061.5,455.9 1063.3,522.5 1065.2,554 1067,472.6 1069.4,471.6 1071.3,500.3 1073.5,478.1 1075.7,487.4 1077.2,496.6 1074.8,489.9 1072.4,481.7 1070,472.6 1071.9,498.5 1073.7,478.1 1075.6,498.5 1077.4,483.7 1078.9,468.9 1081.1,463.3 1083.3,494.8 1085.7,505.9 1087,515.1 1088.5,491.1 1090.4,500.3 1092.2,504 1094.1,544.7 1095.9,572.5 1097.8,552.1 1100,578 1101.8,552.1 1104.2,504 1106.6,498.5 1108.9,474.4 1111.1,489.2 1113.5,491.1 1115.3,465.2 1117.7,511.4 1120,445.7 1121.8,500.3 1123.7,529.9 1125.5,500.3 1127.4,474.4 1128.8,571.5 1131.1,504 1133.8,447.6 1136.2,563.2 1138.5,507.7 1139.9,546.6 1142.2,522.5 1144,553 1145.9,480 1147.7,531.8 1149.6,468.9 1151.4,550.3 1153.6,478.1 1155.7,459.6 1157,522.5 1159.7,474.4 1161.6,577.1 1163.4,504 1165.3,507.7 1168.1,473.5 1171.4,544.7 1173.6,507.7 1175.8,468.9 1178.2,537.3 1181.9,464.2 1183.2,541 1185.1,572.5 1186.9,504 1189.3,563.2 1191.2,498.5 1193.6,486.4 1195.8,572.5 1197.7,494.8 1200.4,585.4 1201.7,515.1 1203.6,504 1206,576.2 1208.8,596.5 1210.6,524.4 1212.8,502.2 1215.2,570.6 1217.1,517 1218.9,623.3 1220.2,518.8 1222.1,487.4 1223.9,592.8 1226.3,517 1228.7,585.4 1231.3,500.3 1232.8,570.6 1234.7,518.8 1236.1,509.6 1238,592.8 1240.2,504 1242.4,485.5 1243.9,535.5" fill="none" stroke="#07633a" stroke-width="2.9" stroke-linejoin="round" stroke-linecap="round" />
<polyline points="916,522.8 917.7,547.8 919.4,556 921.1,513.7 922.8,557.5 924.5,508.9 926.2,548 927.9,513.3 929.6,557.9 931.3,510 933,548.8 934.7,555.8 936.4,514.3 938.1,547.8 939.8,518.4 941.5,540.6 943.2,541.7 944.9,524.6 946.6,555.9" fill="none" stroke="#07633a" stroke-width="2.4" stroke-linejoin="round" stroke-linecap="round" />
<polyline points="1183,568.4 1184.7,526.3 1186.4,514.9 1188.1,554.2 1189.8,514.3 1191.5,568 1193.2,520 1194.9,567.5 1196.6,561.4 1198.3,525.5 1200,561.5 1201.7,533.7 1203.4,565.2 1205.1,518.3 1206.8,561.9 1208.5,535 1210.2,559.6 1211.9,527.3 1213.6,556.4 1215.3,571.3 1217,521.9 1218.7,572.1 1220.4,528.4 1222.1,578.5 1223.8,520.5 1225.5,574.5 1227.2,524.3 1228.9,568.9 1230.6,539.8 1232.3,557.8 1234,534 1235.7,572.9 1237.4,535.6 1239.1,573.4 1240.8,534.7 1242.5,538.1" fill="none" stroke="#07633a" stroke-width="2.4" stroke-linejoin="round" stroke-linecap="round" />
<polyline points="873.7,534.5 901.5,532.7 929.2,529 962.5,523.4 992,518.8 1027.3,512.3 1055,508.6 1079,507.7 1101.5,508.3 1118,509.6 1144,514.2 1166.2,520.7 1184.7,527.1 1205,537.3 1223.6,548.4 1244,563.2" fill="none" stroke="#f7931e" stroke-width="6.2" stroke-linejoin="round" stroke-linecap="butt" stroke-dasharray="11 11.1" stroke-dashoffset="0.49"/>
<polyline points="872.8,752.1 875.6,746.6 877.4,752.1 879.3,776.2 881.5,785.4 883.9,770.6 885.7,791 887.6,805.8 889.4,792.8 891.3,798.4 894.1,830.7 895.9,796.5 897.8,772.5 899.2,778 901.1,807.6 902.9,762.3 905.2,789.1 907,783.6 909.2,746.6 910.7,794.7 912.9,816.9 915.3,778 917.2,759.5 919,765.1 920.9,759.5 922.7,770.6 924.6,787.3 926.4,759.5 928.3,796.5 930.1,810.4 932,763.2 933.8,755.8 935.7,791 937.5,768.8 939.4,755.8 941.2,792.8 943.1,757.7 944.9,789.1 946.8,757.7 949.2,759.5 951.4,770.6 953.3,759.5 955.1,748.4 956,807.6 957.9,759.5 959.7,791 961.6,748.4 964.4,754 966.2,737.3 968.1,741 970.8,726.2 972.7,768.8 974.5,778 975.8,752.1 977.7,768.8 980.1,752.1 981.9,748.4 983.8,722.5 986.2,733.6 988.4,718.8 990.3,709.6 992.1,722.5 994.3,733.6 996.7,709.6 998.6,741 1000.4,709.6 1001.7,726.2 1004.1,702.2 1006.9,699.4 1008.4,739.2 1010.2,698.5 1011.9,653.1 1013.4,731.8 1015.2,707.7 1017.1,748.4 1018.9,713.3 1021.3,751.2 1023.2,713.3 1025,702.2 1026.9,745.6 1028.7,700.3 1030.6,722.5 1031.9,681.8 1033.7,704 1035.2,733.6 1037.4,715.1 1039.8,718.8 1041.7,673.5 1044.8,704 1047.6,704 1049.1,687.4 1050.9,709.6 1053.2,704 1055.9,704 1057.8,694.8 1060.2,709.6 1062.4,726.2 1064.6,735.5 1065.7,691.1 1068,731.8 1070.7,722.5 1073.5,689.2 1075.4,737.3 1077.2,711.4" fill="none" stroke="#0b5a94" stroke-width="2.9" stroke-linejoin="round" stroke-linecap="round" />
<polyline points="1070,721.9 1070.6,704.7 1071.2,727.6 1071.8,707 1072.4,730.4 1073,728.8 1073.6,704.5 1074.2,725.2 1074.8,697.6 1075.4,718.9 1076,693.4 1076.6,701.8 1077.2,696.2 1077.8,696 1078.4,721.5 1079,696.5 1079.6,717.9 1080.2,721.4 1080.8,693.2 1081.4,722.9 1082,699.2 1082.6,715.5 1083.2,723.9 1083.8,692.6 1084.4,722.5 1085,703.1 1085.6,724.8 1086.2,703.7 1086.8,704.3 1087.4,726.2 1088,714 1088.6,724.3 1089.2,708.6 1089.8,726.9 1090.4,708.4 1091,699.4 1091.6,723 1092.2,696.3 1092.8,723.1 1093.4,695.5 1094,714.5 1094.6,697.9 1095.2,721.2 1095.8,702 1096.4,719.8 1097,703.3 1097.6,704.4 1098.2,716.7 1098.8,719.2 1099.4,697.5 1100,719.7 1100.6,692 1101.2,721 1101.8,715.4 1102.4,688 1103,711.9 1103.6,693.8 1104.2,709.4 1104.8,692.9 1105.4,709.9 1106,690.8 1106.6,716.6 1107.2,711 1107.8,694 1108.4,710.8 1109,696.7 1109.6,722.7 1110.2,703.3 1110.8,724.7 1111.4,704.6 1112,724.6 1112.6,704.2 1113.2,717.4 1113.8,717.3 1114.4,703 1115,712.3 1115.6,700 1116.2,697.9 1116.8,722.1 1117.4,700.3 1118,725 1118.6,699.5 1119.2,694 1119.8,717.8 1120.4,698.2 1121,718.8 1121.6,692.7 1122.2,692 1122.8,718.8 1123.4,709.5 1124,693.3 1124.6,714.2 1125.2,693.4 1125.8,719.9 1126.4,696.3 1127,718 1127.6,720.6 1128.2,707.1 1128.8,719.7 1129.4,705 1130,722.1 1130.6,699.3 1131.2,718.3 1131.8,714.7 1132.4,682.9 1133,715.2 1133.6,690.8 1134.2,716.8 1134.8,694.9 1135.4,697.5 1136,716.6 1136.6,704.2 1137.2,714.3 1137.8,706.3 1138.4,712.5 1139,704.9 1139.6,713.7 1140.2,706.8 1140.8,714.3 1141.4,703.8 1142,714.2 1142.6,704.5 1143.2,713.8 1143.8,696.7 1144.4,698 1145,720.9 1145.6,704.9 1146.2,721.9 1146.8,710.1 1147.4,731.5 1148,712.4 1148.6,736.4 1149.2,717.5 1149.8,730.5 1150.4,718.7 1151,730.6 1151.6,712.7 1152.2,730.2 1152.8,731.7 1153.4,717.2 1154,730.5 1154.6,717.2 1155.2,736.3 1155.8,713.6 1156.4,738 1157,710.7 1157.6,737.8 1158.2,739 1158.8,710.2 1159.4,730.8 1160,734 1160.6,740.8 1161.2,702.8 1161.8,732.1 1162.4,701.7 1163,720.2 1163.6,700.8 1164.2,711 1164.8,699.6 1165.4,718.7 1166,705.3 1166.6,729.7 1167.2,710.8 1167.8,732.4 1168.4,724.1 1169,745.5 1169.6,752.5 1170.2,727.2 1170.8,765.9 1171.4,767.1 1172,729.4 1172.6,762.1 1173.2,722.3 1173.8,717.8 1174.4,746.2 1175,716.5 1175.6,748.8 1176.2,717 1176.8,744.4 1177.4,728.9 1178,747.6 1178.6,724.6 1179.2,742.9 1179.8,726.2 1180.4,744.4 1181,725.2 1181.6,748.2 1182.2,723.8 1182.8,743.6 1183.4,728.1 1184,746.6 1184.6,728.8 1185.2,741.2 1185.8,724.6 1186.4,739.4 1187,723.2 1187.6,741.7 1188.2,719.1 1188.8,739.3 1189.4,719.3 1190,734.7 1190.6,740.5 1191.2,723.2 1191.8,738.4 1192.4,741 1193,721.9 1193.6,749.9 1194.2,725.1 1194.8,746.4 1195.4,726.1 1196,753.8 1196.6,725.6 1197.2,746 1197.8,721 1198.4,745.6 1199,730 1199.6,752.1 1200.2,731.6 1200.8,743.8 1201.4,750.4 1202,729.3 1202.6,748.4 1203.2,728 1203.8,754.2 1204.4,728.4 1205,732.6 1205.6,749.3 1206.2,729.3 1206.8,757.4 1207.4,734.1 1208,750.5 1208.6,732.5 1209.2,758.6 1209.8,739.2 1210.4,755.5 1211,736.3 1211.6,758.9 1212.2,744.8 1212.8,758.8 1213.4,740.5 1214,764.1 1214.6,738.2 1215.2,765.8 1215.8,771.1 1216.4,741.6 1217,767.6 1217.6,742.7 1218.2,764.6 1218.8,742.7 1219.4,738.7 1220,737.7 1220.6,761.8 1221.2,736.7 1221.8,755.1 1222.4,738.2 1223,755.5 1223.6,728.9 1224.2,756.9 1224.8,763.9 1225.4,734.5 1226,729 1226.6,757.3 1227.2,736.4 1227.8,756.7 1228.4,739.6 1229,735.4 1229.6,766.2 1230.2,739.7 1230.8,760.7 1231.4,734.7 1232,751.7 1232.6,740.5 1233.2,760.4 1233.8,749.1 1234.4,769.7 1235,756.8 1235.6,775.3 1236.2,754.6 1236.8,769.5 1237.4,754 1238,768.6 1238.6,767.5 1239.2,752.4 1239.8,766 1240.4,755.3 1241,756.4 1241.6,775.5 1242.2,758.1 1242.8,778.8 1243.4,752.7 1244,780.1 1244.6,754.7 1245.2,775.7 1245.8,758.7 1246.4,776.7 1247,751.8 1247.6,768.5 1248.2,751.8 1248.8,752.5 1249.4,771 1250,741.2 1250.6,770.2 1251.2,765.2 1251.8,746.3 1252.4,767.4 1253,751.9 1253.6,767.8 1254.2,759.4 1254.8,773.9 1255.4,762.6 1256,758.9 1256.6,771.4 1257.2,752.1 1257.8,773.1 1258.4,753.4 1259,764.1 1259.6,748.8 1260.2,773.1 1260.8,751.8 1261.4,769.3 1262,779.3 1262.6,780.3 1263.2,756.1 1263.8,779.7 1264.4,767.5 1265,763 1265.6,777.9 1266.2,756.6 1266.8,778.3 1267.4,754.1 1268,770.3 1268.6,776 1269.2,757.7 1269.8,755.7 1270.4,778.4 1271,758.7 1271.6,779.1 1272.2,761.5 1272.8,778.7 1273.4,764.1 1274,778 1274.6,760.6 1275.2,773 1275.8,760.1 1276.4,776.3 1277,762 1277.6,773.1 1278.2,757.9 1278.8,771.8 1279.4,758.7 1280,758.6 1280.6,769.8 1281.2,760.1 1281.8,772.8 1282.4,763.7 1283,783.4 1283.6,763.6 1284.2,786.2 1284.8,767.1 1285.4,788.7 1286,763.7 1286.6,786.5 1287.2,775.6 1287.8,754 1288.4,776.8 1289,756.2 1289.6,769.2 1290.2,752.9 1290.8,769.5 1291.4,759.6 1292,774.3 1292.6,763.2 1293.2,774.2 1293.8,763.9 1294.4,780.2 1295,775.4 1295.6,764" fill="none" stroke="#0b5a94" stroke-width="2.3" stroke-linejoin="round" stroke-linecap="round" />
<polyline points="872.8,792.8 892.2,783.6 914.4,770.6 934.8,760.4 955.1,750.3 973.6,742.9 995.8,735.5 1018,729 1036.5,722.5 1055,718.4 1079,715.1 1101.5,713.3 1125.5,713.6 1144,717 1166.2,720.7 1188.4,727.1 1210.6,735.5 1231,745.7 1249.5,756.8 1266.2,769.7 1282.8,781.7 1296,795" fill="none" stroke="#f7931e" stroke-width="6.2" stroke-linejoin="round" stroke-linecap="butt" stroke-dasharray="11 11.1" stroke-dashoffset="6.45"/>
<polyline points="872.8,949.2 875.6,930.7 877.8,954.7 880.2,943.6 882,967.7 884.4,951 886.7,973.2 888.1,982.5 890.4,951 893.1,958.4 895,943.6 896.8,975.1 898.7,949.2 900,938.1 902.4,960.3 903.7,935.3 905.2,969.5 907,995.4 908.9,951 911.6,951 914.4,969.5 916.3,954.7 917.7,931.6 919.6,967.7 921.8,932.5 923.7,975.1 925.5,917.7 927.4,927 929.2,921.4 931.1,960.3 932.9,925.1 935.1,928.8 937.5,1002.8 939.4,973.2 941.2,997.3 943.1,949.2 944.9,936.2 947.3,899.2 949.6,958.4 951.4,943.6 952.9,891.8 954.7,930.7 957,969.5 958.8,932.5 960.3,902.9 962.5,939.9 964,965.8 965.8,919.6 968.1,927 969.9,904.8 972.1,902.9 974.5,917.7 975.8,901.1 977.3,886.3 979.2,902.9 981.6,882.6 983.2,949.2 984.7,914 986.6,895.5 988.4,925.1 990.6,962.1 992.5,901.1 994.3,910.3 996.7,939.9 998.6,899.2 1000.4,880.7 1002.3,912.2 1004.1,879.8 1006,928.8 1007.8,877 1009.7,919.6 1011.5,878.9 1013.4,914 1016.2,904.8 1018,930.7 1020.8,923.3 1023.2,914 1024.5,945.5 1027.3,949.2 1029.5,952.9 1031,973.2 1032.8,993.6 1034.7,969.5 1036.1,958.4 1038.4,949.2 1040.2,927 1042.1,923.3 1043.9,951 1046.1,890.9 1048,936.2 1050.4,900.1 1052.2,919.6 1054.6,863.1 1056.5,928.8 1058.3,901.1 1060.2,943.6 1062.8,904.8 1065.2,938.1 1067,954.7 1068.9,980.6 1070,906.6 1071.9,951 1073.7,928.8 1075.6,936.2 1078.3,917.7 1080.2,932.5 1082,919.6 1083.9,928.8 1085.2,910.3 1086.7,973.2 1088.5,943.6 1090,927 1091.3,965.8 1093.7,951 1095.5,971.4 1097.8,958.4 1100,975.1 1102.4,999.1 1104.2,943.6 1106.1,958.4 1107.9,951 1109.8,928.8 1112.2,969.5 1113.5,927 1115.9,938.1 1118.1,928.8 1120.3,917.7 1122.7,932.5 1125.5,941.8 1127.4,958.4 1129.2,973.2 1132,927 1133.8,923.3 1135.7,921.4 1137.5,951 1139.4,976.9 1141.2,958.4 1143.6,978.8 1145.9,969.5 1148.6,951 1150.5,945.5 1151.4,984.3 1153.6,954.7 1155.5,947.3 1157.9,969.5 1159.7,951 1161.6,975.1 1163.4,928.8 1165.3,938.1 1166.6,924.2 1168.1,962.1 1170.9,995.4 1172.7,976.9 1174.6,986.2 1177,969.5 1179.2,973.2 1181.4,958.4 1183.8,969.5 1185.7,982.5 1188.4,965.8 1190.3,947.3 1192.1,954.7 1194,969.5 1195.8,965.8 1198.1,984.3 1200.5,999.1 1202.9,965.8 1204.7,976.9 1206.9,988 1208.4,941.8 1209.7,969.5 1212.1,927 1213.4,999.1 1215.3,988 1217.1,1017.6 1219.5,989.9 1221.4,978.8 1223.6,978.8 1225.8,988 1228.2,995.4 1230.6,952.9 1232.8,969.5 1235.1,945.5 1237.5,962.1 1240.2,938.1 1243,951 1245.4,976.9 1247.3,941.8 1249.9,943.6 1252.8,936.2 1255,958.4 1257.8,951 1260.2,947.3 1262.5,984.3 1264.3,951 1266.5,951 1268.9,947.3 1270.8,971.4 1272.6,934.4 1275,936.2 1276.9,925.1 1278.7,915.9 1281,932.5 1282.8,943.6 1285.6,925.1 1287.4,965.8 1289.3,943.6" fill="none" stroke="#0b5a94" stroke-width="3.2" stroke-linejoin="round" stroke-linecap="round" />
<polyline points="883,943.6 903.3,940 932.9,936.6 958.8,935.7 981,935.8 1003.2,936.6 1023.6,938 1045.8,940.8 1068,943.6 1081.1,945.5 1107,949.2 1129.2,952 1151.4,954.7 1173.6,957.5 1195.8,959.9 1218,961.2 1238.4,962.1 1260.6,962.1 1282.8,961.2 1289,960.6" fill="none" stroke="#f7931e" stroke-width="6.2" stroke-linejoin="round" stroke-linecap="butt" stroke-dasharray="11.5 10.6" stroke-dashoffset="1.05"/>
<line x1="873.2" y1="0.8" x2="873.2" y2="1028.8" stroke="#67686b" stroke-width="1.7"/>
<line x1="1296.9" y1="0.8" x2="1296.9" y2="1028.8" stroke="#434447" stroke-width="1.7"/>
<line x1="872.5" y1="0.8" x2="1297.7" y2="0.8" stroke="#434447" stroke-width="1.7"/>
<line x1="872.5" y1="1026.3" x2="1297.7" y2="1026.3" stroke="#434447" stroke-width="1.6"/>
<line x1="872.5" y1="1028.8" x2="1297.7" y2="1028.8" stroke="#434447" stroke-width="1.7"/>
<line x1="1277.2" y1="215.8" x2="1296.9" y2="215.8" stroke="#434447" stroke-width="1.7"/>
<line x1="1277.2" y1="427.2" x2="1296.9" y2="427.2" stroke="#434447" stroke-width="1.7"/>
<line x1="1277.2" y1="626.1" x2="1296.9" y2="626.1" stroke="#434447" stroke-width="1.7"/>
<line x1="1277.2" y1="829.6" x2="1296.9" y2="829.6" stroke="#434447" stroke-width="1.7"/>
<line x1="873.2" y1="46.4" x2="878.7" y2="46.4" stroke="#434447" stroke-width="1.7"/>
<line x1="1296.9" y1="46.4" x2="1291.4" y2="46.4" stroke="#434447" stroke-width="1.7"/>
<line x1="873.2" y1="117.5" x2="878.7" y2="117.5" stroke="#434447" stroke-width="1.7"/>
<line x1="1296.9" y1="117.5" x2="1291.4" y2="117.5" stroke="#434447" stroke-width="1.7"/>
<line x1="873.2" y1="188.4" x2="878.7" y2="188.4" stroke="#434447" stroke-width="1.7"/>
<line x1="1296.9" y1="188.4" x2="1291.4" y2="188.4" stroke="#434447" stroke-width="1.7"/>
<line x1="873.2" y1="248.7" x2="878.7" y2="248.7" stroke="#434447" stroke-width="1.7"/>
<line x1="1296.9" y1="248.7" x2="1291.4" y2="248.7" stroke="#434447" stroke-width="1.7"/>
<line x1="873.2" y1="301" x2="878.7" y2="301" stroke="#434447" stroke-width="1.7"/>
<line x1="1296.9" y1="301" x2="1291.4" y2="301" stroke="#434447" stroke-width="1.7"/>
<line x1="873.2" y1="354.6" x2="878.7" y2="354.6" stroke="#434447" stroke-width="1.7"/>
<line x1="1296.9" y1="354.6" x2="1291.4" y2="354.6" stroke="#434447" stroke-width="1.7"/>
<line x1="873.2" y1="473.7" x2="878.7" y2="473.7" stroke="#434447" stroke-width="1.7"/>
<line x1="1296.9" y1="473.7" x2="1291.4" y2="473.7" stroke="#434447" stroke-width="1.7"/>
<line x1="873.2" y1="508.6" x2="878.7" y2="508.6" stroke="#434447" stroke-width="1.7"/>
<line x1="1296.9" y1="508.6" x2="1291.4" y2="508.6" stroke="#434447" stroke-width="1.7"/>
<line x1="873.2" y1="543.4" x2="878.7" y2="543.4" stroke="#434447" stroke-width="1.7"/>
<line x1="1296.9" y1="543.4" x2="1291.4" y2="543.4" stroke="#434447" stroke-width="1.7"/>
<line x1="873.2" y1="578.1" x2="878.7" y2="578.1" stroke="#434447" stroke-width="1.7"/>
<line x1="1296.9" y1="578.1" x2="1291.4" y2="578.1" stroke="#434447" stroke-width="1.7"/>
<line x1="873.2" y1="612.8" x2="878.7" y2="612.8" stroke="#434447" stroke-width="1.7"/>
<line x1="1296.9" y1="612.8" x2="1291.4" y2="612.8" stroke="#434447" stroke-width="1.7"/>
<line x1="873.2" y1="679.6" x2="878.7" y2="679.6" stroke="#434447" stroke-width="1.7"/>
<line x1="1296.9" y1="679.6" x2="1291.4" y2="679.6" stroke="#434447" stroke-width="1.7"/>
<line x1="873.2" y1="778" x2="878.7" y2="778" stroke="#434447" stroke-width="1.7"/>
<line x1="1296.9" y1="778" x2="1291.4" y2="778" stroke="#434447" stroke-width="1.7"/>
<line x1="873.2" y1="851.5" x2="878.7" y2="851.5" stroke="#434447" stroke-width="1.7"/>
<line x1="1296.9" y1="851.5" x2="1291.4" y2="851.5" stroke="#434447" stroke-width="1.7"/>
<line x1="873.2" y1="953.8" x2="878.7" y2="953.8" stroke="#434447" stroke-width="1.7"/>
<line x1="1296.9" y1="953.8" x2="1291.4" y2="953.8" stroke="#434447" stroke-width="1.7"/>
<line x1="979.1" y1="1026" x2="979.1" y2="1020.5" stroke="#434447" stroke-width="1.7"/>
<line x1="1085" y1="1026" x2="1085" y2="1020.5" stroke="#434447" stroke-width="1.7"/>
<line x1="1191" y1="1026" x2="1191" y2="1020.5" stroke="#434447" stroke-width="1.7"/>
<text x="115" y="60.4" font-size="38" fill="#07633a" text-anchor="start" >-12</text>
<text x="115" y="152" font-size="38" fill="#07633a" text-anchor="start" >-10</text>
<text x="132.1" y="243.7" font-size="38" fill="#07633a" text-anchor="start" >-8</text>
<text x="134.9" y="445.2" font-size="38" fill="#0b5a94" text-anchor="start" >-8</text>
<text x="134.9" y="513.5" font-size="38" fill="#0b5a94" text-anchor="start" >-7</text>
<text x="134.9" y="581.7" font-size="38" fill="#0b5a94" text-anchor="start" >-6</text>
<text x="134.9" y="650" font-size="38" fill="#0b5a94" text-anchor="start" >-5</text>
<text x="117" y="770.9" font-size="38" fill="#032838" text-anchor="start" >10</text>
<text x="117" y="831.4" font-size="38" fill="#032838" text-anchor="start" >15</text>
<text x="117" y="891.1" font-size="38" fill="#032838" text-anchor="start" >20</text>
<text x="117" y="950.4" font-size="38" fill="#032838" text-anchor="start" >25</text>
<text x="117" y="1009.6" font-size="38" fill="#032838" text-anchor="start" >30</text>
<text x="743.8" y="766.1" font-size="38" fill="#f07341" text-anchor="start" >-14</text>
<text x="743.8" y="834.4" font-size="38" fill="#f07341" text-anchor="start" >-12</text>
<text x="743.8" y="903" font-size="38" fill="#f07341" text-anchor="start" >-10</text>
<text x="743.8" y="971.7" font-size="38" fill="#f07341" text-anchor="start" >-8</text>
<text x="743.8" y="1040" font-size="38" fill="#f07341" text-anchor="start" >-6</text>
<text x="1320.4" y="57.7" font-size="38" fill="#0b5a94" text-anchor="start" >-9</text>
<text x="1320.4" y="128" font-size="38" fill="#0b5a94" text-anchor="start" >-8</text>
<text x="1320.4" y="199.1" font-size="38" fill="#0b5a94" text-anchor="start" >-7</text>
<text x="1307" y="310.8" font-size="38" fill="#0b5a94" text-anchor="start" >-11</text>
<text x="1306.3" y="365.5" font-size="38" fill="#0b5a94" text-anchor="start" >-10</text>
<text x="1316" y="484" font-size="38" fill="#07633a" text-anchor="start" >-11</text>
<text x="1330.1" y="554.2" font-size="38" fill="#07633a" text-anchor="start" >-9</text>
<text x="1330.1" y="623.3" font-size="38" fill="#07633a" text-anchor="start" >-7</text>
<text x="1315.9" y="690.3" font-size="38" fill="#0b5a94" text-anchor="start" >-10</text>
<text x="1329.7" y="789.9" font-size="38" fill="#0b5a94" text-anchor="start" >-9</text>
<text x="1315.8" y="862" font-size="38" fill="#0b5a94" text-anchor="start" >-10</text>
<text x="1330" y="951" font-size="38" fill="#0b5a94" text-anchor="start" >-9</text>
<text x="1330" y="1039.6" font-size="38" fill="#0b5a94" text-anchor="start" >-8</text>
<text x="170.6" y="1071.4" font-size="38" fill="#231f20" text-anchor="start" >8</text>
<text x="331.1" y="1071.4" font-size="38" fill="#231f20" text-anchor="start" >6</text>
<text x="488" y="1071.4" font-size="38" fill="#231f20" text-anchor="start" >4</text>
<text x="651.7" y="1071.4" font-size="38" fill="#231f20" text-anchor="start" >2</text>
<text x="862.8" y="1067.4" font-size="38" fill="#231f20" text-anchor="start" >8</text>
<text x="972" y="1067.4" font-size="38" fill="#231f20" text-anchor="start" >6</text>
<text x="1071.7" y="1067.4" font-size="38" fill="#231f20" text-anchor="start" >4</text>
<text x="1183.3" y="1067.4" font-size="38" fill="#231f20" text-anchor="start" >2</text>
<text x="1289.4" y="1067.4" font-size="38" fill="#231f20" text-anchor="start" >0</text>
<text x="364.6" y="1123.8" font-size="38" fill="#231f20" text-anchor="start" >Age [ka BP]</text>
<text x="979.2" y="1124" font-size="38" fill="#231f20" text-anchor="start" >Age [ka BP]</text>
<text transform="translate(38,150.9) rotate(-90)" font-size="35" fill="#07633a" text-anchor="middle" ><tspan font-family="Liberation Serif" font-style="italic" font-size="36">&#948;</tspan><tspan font-size="27" dy="-16">18</tspan><tspan dy="16">O [&#8240;</tspan><tspan font-size="28">V-PDB</tspan>]</text>
<text transform="translate(88.3,146.2) rotate(-90)" font-size="38" fill="#07633a" text-anchor="middle" >corrected</text>
<text transform="translate(44,526.8) rotate(-90)" font-size="35" fill="#0b5a94" text-anchor="middle" ><tspan font-family="Liberation Serif" font-style="italic" font-size="36">&#948;</tspan><tspan font-size="27" dy="-16">18</tspan><tspan dy="16">O [&#8240;</tspan><tspan font-size="28">V-PDB</tspan>]</text>
<text transform="translate(93.8,540) rotate(-90)" font-size="38" fill="#0b5a94" text-anchor="middle" >original</text>
<text transform="translate(41.3,904.4) rotate(-90)" font-size="38" fill="#032838" text-anchor="middle" >Mg/Ca [mmol/mol]</text>
<text transform="translate(839.2,875.1) rotate(-90)" font-size="35" fill="#f07341" text-anchor="middle" stroke="#8c8c8c" stroke-width="0.45"><tspan font-family="Liberation Serif" font-style="italic" font-size="36">&#948;</tspan><tspan font-size="27" dy="-16">13</tspan><tspan dy="16">C [&#8240;</tspan><tspan font-size="28">V-PDB</tspan>]</text>
<text transform="translate(1431.4,99.9) rotate(-90)" font-size="37" fill="#0b5a94" text-anchor="middle" ><tspan>&#948;</tspan><tspan font-size="23" dy="-12.7">18</tspan><tspan dy="12.7">O [&#8240;]</tspan></text>
<text transform="translate(1476.3,100.3) rotate(-90)" font-size="38" fill="#0b5a94" text-anchor="middle" >D</text>
<text x="201" y="405.3" font-size="38" fill="#000" text-anchor="start" >b</text>
<text x="201.5" y="699.8" font-size="38" fill="#000" text-anchor="start" >c</text>
<text x="1242.7" y="57.4" font-size="38" fill="#000" text-anchor="start" >d</text>
<text x="904.8" y="262" font-size="38" fill="#000" text-anchor="start" >e</text>
<text x="906" y="442.8" font-size="38" fill="#000" text-anchor="start" >f</text>
<text x="901.3" y="703.4" font-size="38" fill="#000" text-anchor="start" >g</text>
<text x="903.3" y="901.3" font-size="38" fill="#000" text-anchor="start" >h</text>
<text x="264.6" y="971.8" font-size="43" fill="#46494b" text-anchor="start" >dry</text>
<text x="642.4" y="993" font-size="43" fill="#46494b" text-anchor="start" >wet</text>
<text transform="translate(1434.7,289.6) rotate(-90)" font-size="37" fill="#0b5a94" text-anchor="middle" ><tspan>&#948;</tspan><tspan font-size="23" dy="-12.7">18</tspan><tspan dy="12.7">O [&#8240;]</tspan></text>
<text transform="translate(1479.2,288.9) rotate(-90)" font-size="38" fill="#0b5a94" text-anchor="middle" >TM</text>
<text transform="translate(1436.3,525.5) rotate(-90)" font-size="37" fill="#07633a" text-anchor="middle" ><tspan>&#948;</tspan><tspan font-size="23" dy="-12.7">18</tspan><tspan dy="12.7">O [&#8240;]</tspan></text>
<text transform="translate(1481.2,525) rotate(-90)" font-size="38" fill="#07633a" text-anchor="middle" >TD corr</text>
<text transform="translate(1441.2,743.8) rotate(-90)" font-size="37" fill="#0b5a94" text-anchor="middle" ><tspan>&#948;</tspan><tspan font-size="23" dy="-12.7">18</tspan><tspan dy="12.7">O [&#8240;]</tspan></text>
<text transform="translate(1485.5,744.7) rotate(-90)" font-size="38" fill="#0b5a94" text-anchor="middle" >BA</text>
<text transform="translate(1442.5,938.1) rotate(-90)" font-size="37" fill="#0b5a94" text-anchor="middle" ><tspan>&#948;</tspan><tspan font-size="23" dy="-12.7">18</tspan><tspan dy="12.7">O [&#8240;]</tspan></text>
<text transform="translate(1487.5,938.1) rotate(-90)" font-size="38" fill="#0b5a94" text-anchor="middle" >T</text>
<text x="201.3" y="58.7" font-size="38" fill="#000" text-anchor="start" >a</text>
</svg>
</body></html>
